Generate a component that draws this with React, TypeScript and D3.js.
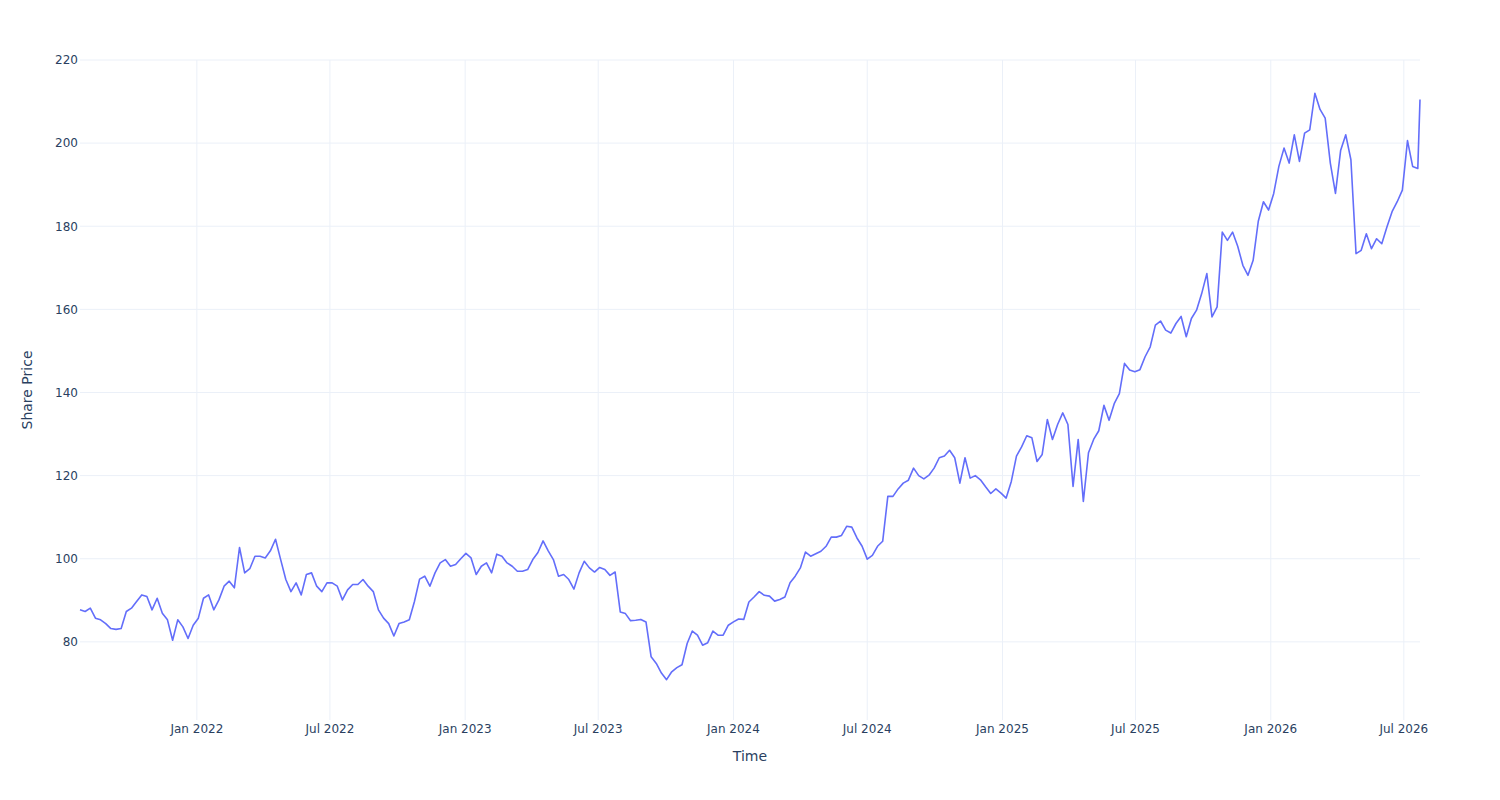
import React, { useEffect, useRef } from 'react'
import * as d3 from 'd3'

// weekly closes, first one on startDate
const startDate = '2021-07-26'
const weeklyPrice = [
  87.7, 87.3, 88.1, 85.7, 85.3, 84.4, 83.2, 83.0, 83.2, 87.3,
  88.1, 89.7, 91.3, 90.9, 87.7, 90.5, 86.9, 85.3, 80.4, 85.3,
  83.6, 80.8, 84.0, 85.7, 90.5, 91.3, 87.7, 90.1, 93.4, 94.6,
  93.0, 102.7, 96.6, 97.6, 100.6, 100.6, 100.2, 101.9, 104.7, 99.8,
  95.0, 92.1, 94.2, 91.3, 96.2, 96.6, 93.4, 92.1, 94.2, 94.2,
  93.4, 90.1, 92.5, 93.8, 93.8, 95.0, 93.4, 92.1, 87.7, 85.7,
  84.4, 81.4, 84.4, 84.8, 85.3, 89.7, 95.1, 95.8, 93.4, 96.6,
  99.0, 99.8, 98.2, 98.6, 100.0, 101.3, 100.2, 96.2, 98.2, 99.0,
  96.6, 101.1, 100.6, 99.0, 98.2, 97.0, 97.0, 97.4, 99.8, 101.5,
  104.3, 101.9, 99.8, 95.8, 96.2, 95.0, 92.7, 96.6, 99.4, 97.8,
  96.8, 97.9, 97.4, 96.0, 96.8, 87.2, 86.8, 85.1, 85.2, 85.4,
  84.8, 76.4, 74.8, 72.5, 70.9, 72.8, 73.8, 74.5, 79.6, 82.6,
  81.6, 79.2, 79.8, 82.6, 81.6, 81.6, 84.0, 84.8, 85.5, 85.4,
  89.6, 90.8, 92.1, 91.2, 91.0, 89.8, 90.2, 90.8, 94.2, 95.8,
  97.8, 101.6, 100.6, 101.2, 101.8, 103.0, 105.2, 105.2, 105.6, 107.8,
  107.6, 105.0, 103.0, 99.9, 100.8, 103.0, 104.2, 115.0, 115.0, 116.8,
  118.2, 118.9, 121.8, 120.0, 119.2, 120.1, 121.8, 124.3, 124.7, 126.1,
  124.3, 118.2, 124.3, 119.4, 120.0, 119.0, 117.3, 115.7, 116.8, 115.8,
  114.6, 118.6, 124.7, 126.9, 129.6, 129.1, 123.4, 125.1, 133.5, 128.7,
  132.3, 135.1, 132.3, 117.4, 128.7, 113.8, 125.5, 128.7, 130.8, 136.9,
  133.3, 137.3, 139.7, 147.0, 145.4, 145.0, 145.5, 148.6, 151.0, 156.2,
  157.2, 155.0, 154.3, 156.6, 158.3, 153.4, 157.8, 159.8, 163.8, 168.6,
  158.2, 160.6, 178.6, 176.6, 178.6, 175.2, 170.6, 168.2, 171.8, 181.2,
  185.9, 183.9, 187.9, 194.4, 198.8, 195.2, 202.0, 195.6, 202.4, 203.2,
  212.0, 208.1, 206.0, 195.2, 187.9, 198.2, 202.0, 196.0, 173.4, 174.2,
  178.2, 174.6, 177.0, 175.8, 179.8, 183.5, 185.9, 188.7, 200.6, 194.4,
  193.9,
]
const lastDate = '2026-07-23'
const lastPrice = 210.5

const yTicks = [80, 100, 120, 140, 160, 180, 200, 220]
const xTicks = [
  '2022-01-01', '2022-07-01', '2023-01-01', '2023-07-01', '2024-01-01',
  '2024-07-01', '2025-01-01', '2025-07-01', '2026-01-01', '2026-07-01',
]

const W = 1500
const H = 800
const FONT = '"DejaVu Sans", Verdana, sans-serif'

function drawChart(node: SVGSVGElement) {
  const svg = d3.select(node)
  svg.selectAll('*').remove()

  const margin = { top: 60, right: 80, bottom: 80, left: 80 }
  const parse = d3.utcParse('%Y-%m-%d')
  const start = parse(startDate) as Date

  const data = weeklyPrice.map((p, i) => ({ date: d3.utcDay.offset(start, i * 7), price: p }))
  data.push({ date: parse(lastDate) as Date, price: lastPrice })

  const x = d3.scaleUtc()
    .domain(d3.extent(data, d => d.date) as [Date, Date])
    .range([margin.left, W - margin.right])
  const y = d3.scaleLinear()
    .domain([61.2, 220])
    .range([H - margin.bottom, margin.top])

  svg.append('rect').attr('width', W).attr('height', H).attr('fill', 'white')

  // grid
  const grid = svg.append('g').attr('stroke', '#EBF0F8').attr('stroke-width', 1)
  grid.selectAll('.gx')
    .data(xTicks)
    .enter().append('line')
    .attr('x1', d => x(parse(d) as Date)).attr('x2', d => x(parse(d) as Date))
    .attr('y1', margin.top).attr('y2', H - margin.bottom)
  grid.selectAll('.gy')
    .data(yTicks)
    .enter().append('line')
    .attr('x1', margin.left).attr('x2', W - margin.right)
    .attr('y1', d => y(d)).attr('y2', d => y(d))

  // tick labels
  const fmt = d3.utcFormat('%b %Y')
  svg.append('g')
    .selectAll('text')
    .data(xTicks)
    .enter().append('text')
    .attr('x', d => x(parse(d) as Date))
    .attr('y', H - margin.bottom + 12.5)
    .attr('text-anchor', 'middle')
    .attr('font-family', FONT).attr('font-size', 12).attr('fill', '#2a3f5f')
    .text(d => fmt(parse(d) as Date))

  svg.append('g')
    .selectAll('text')
    .data(yTicks)
    .enter().append('text')
    .attr('x', margin.left - 2)
    .attr('y', d => y(d))
    .attr('dy', '0.36em')
    .attr('text-anchor', 'end')
    .attr('font-family', FONT).attr('font-size', 12).attr('fill', '#2a3f5f')
    .text(d => d)

  // axis titles
  svg.append('text')
    .attr('x', (margin.left + W - margin.right) / 2)
    .attr('y', 761)
    .attr('text-anchor', 'middle')
    .attr('font-family', FONT).attr('font-size', 14).attr('fill', '#2a3f5f')
    .text('Time')

  svg.append('text')
    .attr('transform', `translate(32,${(margin.top + H - margin.bottom) / 2}) rotate(-90)`)
    .attr('text-anchor', 'middle')
    .attr('font-family', FONT).attr('font-size', 14).attr('fill', '#2a3f5f')
    .text('Share Price')

  // price line
  const line = d3.line<{ date: Date, price: number }>()
    .x(d => x(d.date))
    .y(d => y(d.price))

  svg.append('path')
    .datum(data)
    .attr('d', line)
    .attr('fill', 'none')
    .attr('stroke', '#636efa')
    .attr('stroke-width', 1.6)
    .attr('stroke-linejoin', 'round')
}

export default function App() {
  const ref = useRef<SVGSVGElement>(null)

  useEffect(() => {
    if (ref.current) drawChart(ref.current)
  }, [])

  return (
    <svg
      ref={ref}
      width={W}
      height={H}
      style={{ position: 'absolute', left: 0, top: 0 }}
    />
  )
}
